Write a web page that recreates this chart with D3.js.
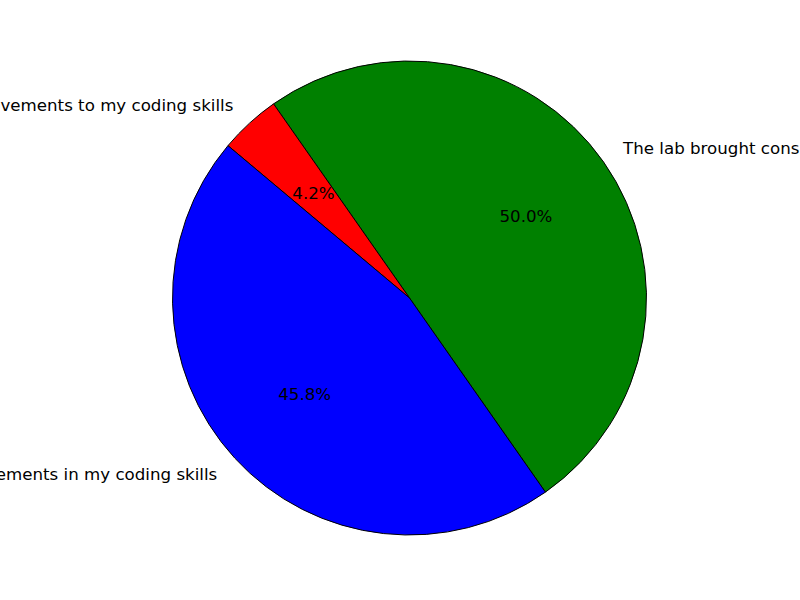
<!DOCTYPE html>
<html>
<head>
<meta charset="utf-8">
<script src="https://cdn.jsdelivr.net/npm/d3@7"></script>
<style>
  html, body { margin: 0; padding: 0; background: #fff; }
  svg { display: block; }
  text { font-family: "DejaVu Sans", sans-serif; font-size: 16.67px; fill: #000; }
</style>
</head>
<body>
<svg id="chart" width="800" height="600"></svg>
<script>
const labels = [
  "The lab brought considerable improvements to my coding skills",
  "The lab brought no improvements to my coding skills",
  "The lab brought some improvements in my coding skills"
];
const values = [12, 1, 11];
const colors = ["#008000", "#ff0000", "#0000ff"];
const startDeg = -55; // matplotlib-style start angle, counterclockwise

const width = 800, height = 600;
const cx = 409.5, cy = 298, r = 237;

const svg = d3.select("#chart");
const g = svg.append("g").attr("transform", `translate(${cx},${cy})`);

const toRad = d => d * Math.PI / 180;
const d3Start = toRad(90 - startDeg);
const pie = d3.pie().sort(null).value(d => d.value)
  .startAngle(d3Start).endAngle(d3Start - 2 * Math.PI);

const data = labels.map((l, i) => ({ label: l, value: values[i], color: colors[i] }));
const arcs = pie(data);
const arc = d3.arc().innerRadius(0).outerRadius(r);
const total = d3.sum(values);

g.selectAll("path.slice").data(arcs).join("path")
  .attr("class", "slice")
  .attr("d", arc)
  .attr("fill", d => d.data.color)
  .attr("stroke", "#000")
  .attr("stroke-width", 1)
  .attr("stroke-linejoin", "round");

function mid(d) { return (d.startAngle + d.endAngle) / 2; }

g.selectAll("text.label").data(arcs).join("text")
  .attr("class", "label")
  .attr("x", d => 1.1 * r * Math.sin(mid(d)))
  .attr("y", d => -1.1 * r * Math.cos(mid(d)))
  .attr("dominant-baseline", "central")
  .attr("text-anchor", d => Math.sin(mid(d)) > 0 ? "start" : "end")
  .text(d => d.data.label);

g.selectAll("text.pct").data(arcs).join("text")
  .attr("class", "pct")
  .attr("x", d => 0.6 * r * Math.sin(mid(d)))
  .attr("y", d => -0.6 * r * Math.cos(mid(d)))
  .attr("dominant-baseline", "central")
  .attr("text-anchor", "middle")
  .text(d => (d.data.value / total * 100).toFixed(1) + "%");
</script>
</body>
</html>
